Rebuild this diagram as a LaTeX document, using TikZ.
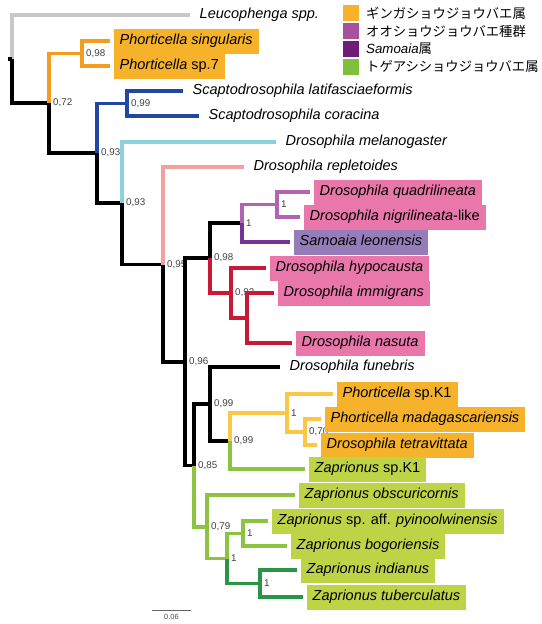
\documentclass[tikz,border=0pt]{standalone}
\usepackage{fontspec,xspace}
\setmainfont{Liberation Sans}
\newfontfamily\jpfont{Noto Sans CJK JP}
\usetikzlibrary{calc}
\definecolor{cGrey}{RGB}{200,200,200}
\definecolor{cOrange}{RGB}{242,156,32}
\definecolor{cBlue}{RGB}{35,70,160}
\definecolor{cCyan}{RGB}{140,210,220}
\definecolor{cSalmon}{RGB}{242,160,160}
\definecolor{cLPurple}{RGB}{178,100,178}
\definecolor{cDPurple}{RGB}{120,50,150}
\definecolor{cRed}{RGB}{200,25,55}
\definecolor{cYellow}{RGB}{250,200,70}
\definecolor{cLGreen}{RGB}{140,196,64}
\definecolor{cDGreen}{RGB}{40,150,70}
\definecolor{bOrange}{RGB}{245,178,42}
\definecolor{bPink}{RGB}{233,119,170}
\definecolor{bLav}{RGB}{150,125,185}
\definecolor{bLime}{RGB}{190,212,70}
\definecolor{kPurple}{RGB}{168,82,158}
\definecolor{kDPurple}{RGB}{110,30,120}
\definecolor{kGreen}{RGB}{128,190,60}
\newcommand{\Dro}{\textit{Drosophila}\xspace}
\newcommand{\Pho}{\textit{Phorticella}\xspace}
\newcommand{\Zap}{\textit{Zaprionus}\xspace}
\newcommand{\Sca}{\textit{Scaptodrosophila}\xspace}
\tikzset{
  br/.style={line width=3.3pt},
  taxon/.style={anchor=west, xshift=3.5pt, inner xsep=6pt, inner ysep=0pt,
    minimum height=25pt, text height=10.5pt, text depth=3pt,
    font=\fontsize{14.5}{17}\selectfont},
  supp/.style={anchor=west, xshift=3pt, inner sep=1pt, text=black!75,
    font=\fontsize{9.8}{10}\selectfont},
  keybox/.style={minimum size=16pt, inner sep=0pt},
  keytext/.style={anchor=west, inner sep=0pt, font=\fontsize{13.3}{16}\selectfont}
}
\begin{document}
\begin{tikzpicture}[x=1pt,y=-1pt]
\useasboundingbox (0,0) rectangle (541,624);
% tips
\coordinate (leuc) at (190,15);
\coordinate (sing) at (110,41);
\coordinate (sp7) at (110,66);
\coordinate (lat) at (183,91);
\coordinate (cor) at (199,116);
\coordinate (mel) at (276,142);
\coordinate (rep) at (244,167);
\coordinate (quad) at (310,192);
\coordinate (nigr) at (300,217);
\coordinate (samo) at (290,242);
\coordinate (hypo) at (266,268);
\coordinate (immi) at (274,293);
\coordinate (nasu) at (292,343);
\coordinate (fune) at (280,367);
\coordinate (phK1) at (333,394);
\coordinate (mada) at (321,419);
\coordinate (tetr) at (317,445);
\coordinate (zaK1) at (305,469);
\coordinate (obsc) at (295,495);
\coordinate (pyin) at (268,521);
\coordinate (bogo) at (287,546);
\coordinate (indi) at (297,570);
\coordinate (tube) at (303,597);
% inner nodes
\coordinate (r0) at (8,59);
\coordinate (root) at (12,59);
\coordinate (n072) at (49,103);
\coordinate (nPho) at (82,53.5);
\coordinate (n093a) at (97,153);
\coordinate (nSca) at (127,103.5);
\coordinate (n093b) at (122,203);
\coordinate (n09x) at (163,264.5);
\coordinate (n096) at (185,362);
\coordinate (n098) at (210,258);
\coordinate (nSam) at (242,223);
\coordinate (nQua) at (277,204.5);
\coordinate (nImm) at (231,293);
\coordinate (nNas) at (247,318);
\coordinate (n085) at (194,465.5);
\coordinate (n099a) at (210,404);
\coordinate (n099b) at (230,441);
\coordinate (nYel) at (287,413);
\coordinate (nTet) at (305,432);
\coordinate (n079) at (207,527);
\coordinate (nZap) at (227,558.5);
\coordinate (nBog) at (243,533.5);
\coordinate (nInd) at (260,583.5);
% support values
\node [supp] at (nPho) {0,98};
\node [supp] at (n072) {0,72};
\node [supp] at (nSca) {0,99};
\node [supp] at (n093a) {0,93};
\node [supp] at (n093b) {0,93};
\node [supp] at (n09x) {0,95};
\node [supp] at (nQua) {1};
\node [supp] at (nSam) {1};
\node [supp] at (n098) {0,98};
\node [supp] at (nImm) {0,92};
\node [supp] at (n096) {0,96};
\node [supp] at (n099a) {0,99};
\node [supp] at (nYel) {1};
\node [supp] at (nTet) {0,70};
\node [supp] at (n099b) {0,99};
\node [supp] at (n085) {0,85};
\node [supp] at (n079) {0,79};
\node [supp] at (nBog) {1};
\node [supp] at (nZap) {1};
\node [supp] at (nInd) {1};
% branches
\draw [br, cGrey] (root) |- (leuc);
\draw [br] (r0) -- (root) (root) |- (n072) (n072) |- (n093a) (n093a) |- (n093b)
  (n093b) |- (n09x) (n09x) |- (n096) (n096) |- (n098) (n098) |- (nSam)
  (n096) |- (n085) (n085) |- (n099a) (n099a) |- (fune) (n099a) |- (n099b);
\draw [br, cOrange] (n072) |- (nPho) (nPho) |- (sing) (nPho) |- (sp7);
\draw [br, cBlue] (n093a) |- (nSca) (nSca) |- (lat) (nSca) |- (cor);
\draw [br, cCyan] (n093b) |- (mel);
\draw [br, cSalmon] (n09x) |- (rep);
\draw [br, cLPurple] (nSam) |- (nQua) (nQua) |- (quad) (nQua) |- (nigr);
\draw [br, cDPurple] (nSam) |- (samo);
\draw [br, cRed] (n098) |- (nImm) (nImm) |- (hypo) (nImm) |- (nNas)
  (nNas) |- (immi) (nNas) |- (nasu);
\draw [br, cYellow] (n099b) |- (nYel) (nYel) |- (phK1) (nYel) |- (nTet)
  (nTet) |- (mada) (nTet) |- (tetr);
\draw [br, cLGreen] (n099b) |- (zaK1) (n085) |- (n079) (n079) |- (obsc)
  (n079) |- (nZap) (nZap) |- (nBog) (nBog) |- (pyin) (nBog) |- (bogo);
\draw [br, cDGreen] (nZap) |- (nInd) (nInd) |- (indi) (nInd) |- (tube);
% taxa
\node [taxon] (tLeuc) at (leuc) {\textit{Leucophenga spp.}};
\node [taxon, fill=bOrange] (tSing) at (sing) {\Pho\textit{singularis}};
\node [taxon, fill=bOrange] (tSp7) at (sp7) {\Pho sp.7};
\node [taxon] (tLat) at (lat) {\Sca\textit{latifasciaeformis}};
\node [taxon] (tCor) at (cor) {\Sca\textit{coracina}};
\node [taxon] (tMel) at (mel) {\Dro\textit{melanogaster}};
\node [taxon] (tRep) at (rep) {\Dro\textit{repletoides}};
\node [taxon, fill=bPink] (tQuad) at (quad) {\Dro\textit{quadrilineata}};
\node [taxon, fill=bPink] (tNigr) at (nigr) {\Dro\textit{nigrilineata}-like};
\node [taxon, fill=bLav] (tSamo) at (samo) {\textit{Samoaia leonensis}};
\node [taxon, fill=bPink] (tHypo) at (hypo) {\Dro\textit{hypocausta}};
\node [taxon, fill=bPink] (tImmi) at (immi) {\Dro\textit{immigrans}};
\node [taxon, fill=bPink] (tNasu) at (nasu) {\Dro\textit{nasuta}};
\node [taxon] (tFune) at (fune) {\Dro\textit{funebris}};
\node [taxon, fill=bOrange] (tPhK1) at (phK1) {\Pho sp.K1};
\node [taxon, fill=bOrange] (tMada) at (mada) {\Pho\textit{madagascariensis}};
\node [taxon, fill=bOrange] (tTetr) at (tetr) {\Dro\textit{tetravittata}};
\node [taxon, fill=bLime] (tZaK1) at (zaK1) {\Zap sp.K1};
\node [taxon, fill=bLime] (tObsc) at (obsc) {\Zap\textit{obscuricornis}};
\node [taxon, fill=bLime] (tPyin) at (pyin) {\Zap sp. aff. \textit{pyinoolwinensis}};
\node [taxon, fill=bLime] (tBogo) at (bogo) {\Zap\textit{bogoriensis}};
\node [taxon, fill=bLime] (tIndi) at (indi) {\Zap\textit{indianus}};
\node [taxon, fill=bLime] (tTube) at (tube) {\Zap\textit{tuberculatus}};
% legend
\node [keybox, fill=bOrange] (k1) at (350.5,13) {};
\node [keybox, fill=kPurple] (k2) at (350.5,31) {};
\node [keybox, fill=kDPurple] (k3) at (350.5,49) {};
\node [keybox, fill=kGreen] (k4) at (350.5,67) {};
\node [keytext] (l1) at (366,13) {\jpfont ギンガショウジョウバエ属};
\node [keytext] (l2) at (366,31) {\jpfont オオショウジョウバエ種群};
\node [keytext] (l3) at (366,49) {\textit{Samoaia}{\jpfont 属}};
\node [keytext] (l4) at (366,67) {\jpfont トゲアシショウジョウバエ属};
% scale bar
\coordinate (s0) at (152,610);
\coordinate (s1) at (191,610);
\draw [black!60, line width=0.8pt] (s0) -- node [below=1pt, text=black!70,
  font=\fontsize{7.5}{8}\selectfont] {0.06} (s1);
\end{tikzpicture}
\end{document}
